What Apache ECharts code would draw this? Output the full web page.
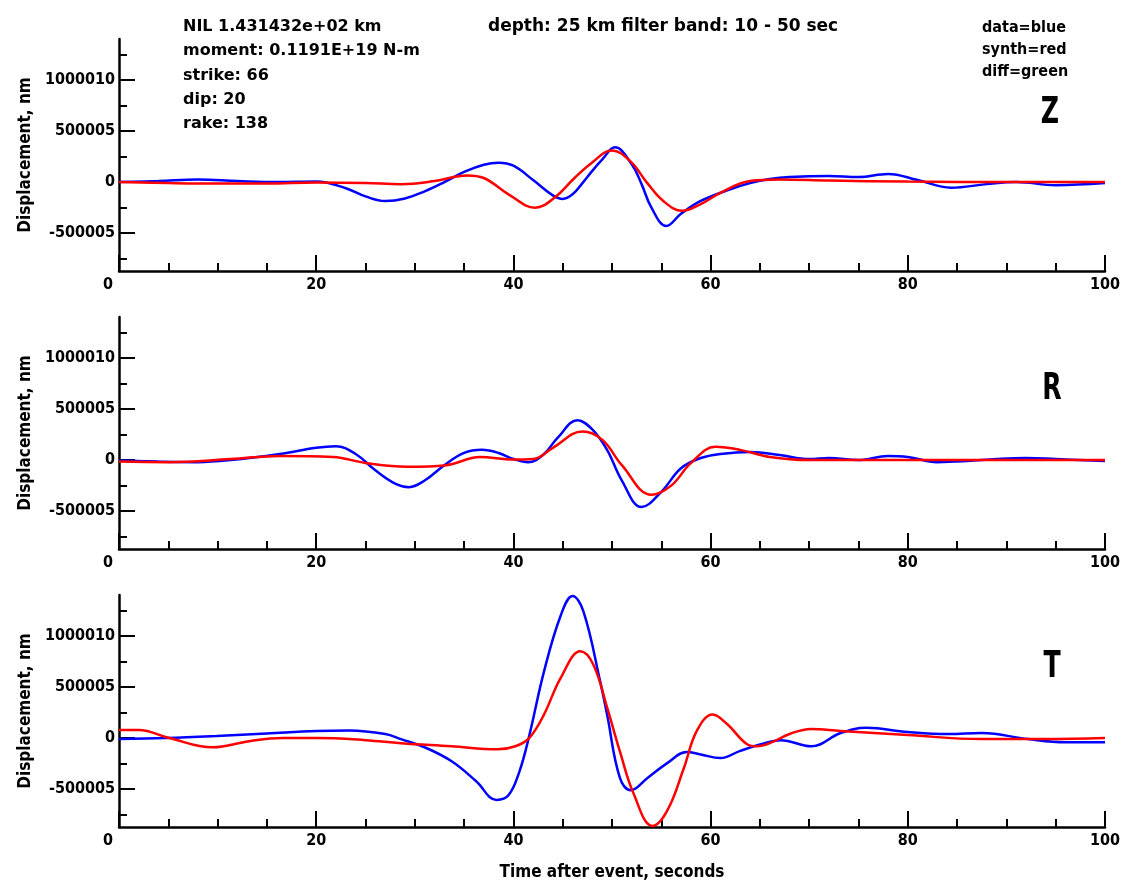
<!DOCTYPE html>
<html>
<head>
<meta charset="utf-8">
<title>NIL waveform fit</title>
<script src="https://cdn.jsdelivr.net/npm/echarts@6/dist/echarts.min.js"></script>
<style>
    html, body { margin: 0; padding: 0; background: #fff; }
    #chart { width: 1126px; height: 888px; }
</style>
</head>
<body>
<div id="chart"></div>
<script>
// panels, top to bottom
var components = ['Z', 'R', 'T'];

// axis ticks
var timeTicks = [0, 20, 40, 60, 80, 100];
var ampTicks = [-500005, 0, 500005, 1000010];
var ampMinorTicks = [-750007.5, -250002.5, 250002.5, 750007.5, 1250012.5];
var ampRange = [-870000, 1400000];

// Z: data (blue) and synthetic (red)
var zDataTime = [0, 4, 8, 12, 16, 20, 23, 25, 27, 29, 31, 33, 35, 37, 38.5, 40, 42, 44, 45, 46, 47, 48, 49, 50.3, 52, 53, 54, 55.5, 57, 59, 62, 64, 66, 68, 72, 75, 78, 81, 84.4, 88, 91, 95, 100];
var zDataAmp = [0, 10000, 25000, 10000, 0, 5000, -60000, -140000, -185000, -160000, -90000, 0, 100000, 170000, 190000, 160000, 20000, -130000, -165000, -120000, -10000, 110000, 220000, 340000, 175000, -20000, -250000, -430000, -310000, -185000, -70000, -10000, 30000, 50000, 60000, 50000, 80000, 20000, -55000, -20000, 0, -30000, -10000];
var zSynthTime = [0, 5, 10, 15, 20, 25, 28.6, 32, 35.3, 37, 39.5, 42.2, 44.2, 46.2, 47.9, 50, 51.9, 53.5, 55.2, 57.1, 59, 61, 64, 67, 72, 80, 90, 100];
var zSynthAmp = [0, -10000, -15000, -15000, -5000, -10000, -20000, 10000, 65000, 40000, -120000, -250000, -150000, 40000, 185000, 310000, 200000, 0, -185000, -280000, -215000, -105000, 10000, 25000, 15000, 5000, 0, 0];

// R
var rDataTime = [0, 4, 8, 11.3, 16.3, 20, 22, 24, 26, 28, 29.4, 31, 33, 35, 36.8, 38.5, 40, 41.5, 43, 44.5, 46.5, 48, 49.5, 51, 53, 55, 57, 59, 61, 64, 67, 70, 72, 75, 78, 80, 83, 86, 89, 92, 95, 100];
var rDataAmp = [-5000, -15000, -20000, 0, 60000, 120000, 135000, 60000, -100000, -230000, -265000, -200000, -50000, 70000, 100000, 70000, 10000, -20000, 50000, 220000, 390000, 300000, 100000, -200000, -460000, -310000, -80000, 20000, 60000, 80000, 50000, 10000, 20000, 0, 40000, 30000, -20000, -10000, 10000, 20000, 10000, -10000];
var rSynthTime = [0, 5, 11.3, 16.3, 21.7, 25.1, 29.2, 33.2, 36.6, 40, 42, 44, 47, 49, 51, 54, 56, 58, 60.5, 63, 66, 70, 80, 90, 100];
var rSynthAmp = [-15000, -20000, 10000, 40000, 30000, -30000, -65000, -50000, 30000, 5000, 10000, 120000, 280000, 200000, -50000, -340000, -250000, -30000, 130000, 100000, 30000, 0, 0, 0, 0];

// T
var tDataTime = [0, 4.8, 9.9, 15, 20, 23.4, 27, 28.6, 31, 33.7, 36.2, 38.3, 39.5, 40.6, 41.6, 43.1, 44.8, 46, 47.1, 48.8, 49.5, 50.8, 51.9, 53.6, 55.6, 57.6, 59, 61, 63, 65.1, 67.1, 70.2, 73.2, 75.8, 80, 84.1, 87.5, 92.2, 96, 100];
var tDataAmp = [-10000, 0, 20000, 45000, 70000, 75000, 40000, -10000, -90000, -225000, -420000, -605000, -560000, -330000, 20000, 650000, 1200000, 1390000, 1240000, 555000, 230000, -390000, -510000, -390000, -245000, -135000, -160000, -195000, -125000, -60000, -20000, -80000, 50000, 100000, 60000, 40000, 50000, -10000, -40000, -40000];
var tSynthTime = [0, 2, 5.1, 9.5, 13.2, 16.6, 20, 25, 28.6, 33.7, 38.4, 40.2, 41.6, 43.1, 44.8, 46.8, 48.1, 49.5, 50.8, 52.2, 54.1, 55.6, 57.3, 58.6, 60.2, 61.7, 63.7, 64.7, 66, 68, 70.2, 73.2, 80, 87.5, 94, 100];
var tSynthAmp = [80000, 80000, 0, -90000, -30000, 0, 0, -20000, -50000, -80000, -110000, -80000, 0, 230000, 590000, 850000, 720000, 300000, -130000, -545000, -860000, -710000, -290000, 70000, 230000, 135000, -60000, -80000, -50000, 40000, 90000, 70000, 30000, -10000, -10000, 0];

// header text
var headerLines = ['NIL 1.431432e+02 km', 'moment: 0.1191E+19 N-m', 'strike: 66', 'dip: 20', 'rake: 138'];
var filterText = 'depth: 25 km filter band: 10 - 50 sec';
var colorKey = ['data=blue', 'synth=red', 'diff=green'];

(function (window) {
    var FONT = '"DejaVu Sans Condensed", "Liberation Sans Narrow", sans-serif';
    var WIDE_FONT = '"DejaVu Sans", sans-serif';
    var tops = [39, 317, 595];
    var panelHeight = 232;
    var labelPos = [[1050, 114], [1052, 390], [1052, 668]];

    // tiny stand-in for jQuery.extend
    var $ = { extend: function (a, b) { for (var k in b) { a[k] = b[k]; } return a; } };

    function pairs(times, amps) {
        return times.map(function (t, i) { return [t, amps[i]]; });
    }

    function textStyle(size) {
        return { color: '#000', fontFamily: FONT, fontWeight: 'bold', fontSize: size };
    }

    // x axis with major + minor ticks
    function buildXAxis(i) {
        var axis = {
            type: 'value', gridIndex: i, min: 0, max: 100, interval: 20,
            axisLine: { onZero: false, lineStyle: { color: '#000', width: 2.5 } },
            axisTick: { inside: true, length: 16, lineStyle: { color: '#000', width: 2 } },
            minorTick: { show: true, splitNumber: 4, length: 8, lineStyle: { color: '#000', width: 2 } },
            splitLine: { show: false },
            axisLabel: $.extend(textStyle(16), {
                margin: 6,
                formatter: function (v) { return v === 0 ? '{first|0}' : String(v); },
                rich: { first: $.extend(textStyle(16), { padding: [0, 22, 0, 0] }) }
            })
        };
        if (i === components.length - 1) {
            axis.name = 'Time after event, seconds';
            axis.nameLocation = 'middle';
            axis.nameGap = 37;
            axis.nameTextStyle = textStyle(17);
        }
        return axis;
    }

    function buildYAxis(i) {
        return {
            type: 'value', gridIndex: i, position: 'left', min: ampRange[0], max: ampRange[1],
            axisLine: { onZero: false, lineStyle: { color: '#000', width: 2.5 } },
            axisTick: { inside: true, length: 16, customValues: ampTicks, lineStyle: { color: '#000', width: 2 } },
            axisLabel: $.extend(textStyle(16), {
                margin: 4,
                customValues: ampTicks,
                formatter: function (v) { return String(v); }
            }),
            splitLine: { show: false },
            name: 'Displacement, nm',
            nameLocation: 'middle',
            nameGap: 85,
            nameTextStyle: textStyle(17)
        };
    }

    // second y axis only for the short ticks
    function buildMinorYAxis(i) {
        return {
            type: 'value', gridIndex: i, position: 'left', min: ampRange[0], max: ampRange[1],
            axisLine: { show: false },
            axisTick: { inside: true, length: 8, customValues: ampMinorTicks, lineStyle: { color: '#000', width: 2 } },
            axisLabel: { show: false },
            splitLine: { show: false }
        };
    }

    function buildSeries(i, times, amps, color) {
        return {
            type: 'line', xAxisIndex: i, yAxisIndex: i,
            data: pairs(times, amps),
            smooth: 0.4, symbol: 'none', silent: true,
            lineStyle: { color: color, width: 2.5 }
        };
    }

    function headerText(x, y, text, font) {
        return { type: 'text', x: x, y: y,
            style: { text: text, fill: '#000', font: font, verticalAlign: 'middle' } };
    }

    function buildGraphic() {
        var items = [];
        headerLines.forEach(function (line, k) {
            items.push(headerText(183, 27 + k * 24.3, line, 'bold 16px ' + WIDE_FONT));
        });
        items.push(headerText(488, 27, filterText, 'bold 17px ' + WIDE_FONT));
        colorKey.forEach(function (line, k) {
            items.push(headerText(982, 28 + k * 22, line, 'bold 16px ' + FONT));
        });
        components.forEach(function (c, i) {
            items.push({ type: 'text', x: labelPos[i][0], y: labelPos[i][1], scaleY: 1.3,
                style: { text: c, fill: '#000', font: 'bold 28px ' + FONT, align: 'center', verticalAlign: 'middle' } });
        });
        return items;
    }

    var chart = echarts.init(document.getElementById('chart'), null, { renderer: 'canvas' });
    var grids = [], xAxes = [], yAxes = [], minorY = [];
    components.forEach(function (c, i) {
        grids.push({ left: 119, right: 21, top: tops[i], height: panelHeight, outerBoundsMode: 'none' });
        xAxes.push(buildXAxis(i));
        yAxes.push(buildYAxis(i));
        minorY.push(buildMinorYAxis(i));
    });

    chart.setOption({
        backgroundColor: '#fff',
        animation: false,
        grid: grids,
        xAxis: xAxes,
        yAxis: yAxes.concat(minorY),
        series: [
            buildSeries(0, zDataTime, zDataAmp, '#0000ff'),
            buildSeries(0, zSynthTime, zSynthAmp, '#ff0000'),
            buildSeries(1, rDataTime, rDataAmp, '#0000ff'),
            buildSeries(1, rSynthTime, rSynthAmp, '#ff0000'),
            buildSeries(2, tDataTime, tDataAmp, '#0000ff'),
            buildSeries(2, tSynthTime, tSynthAmp, '#ff0000')
        ],
        graphic: buildGraphic()
    });
})(window);
</script>
</body>
</html>
